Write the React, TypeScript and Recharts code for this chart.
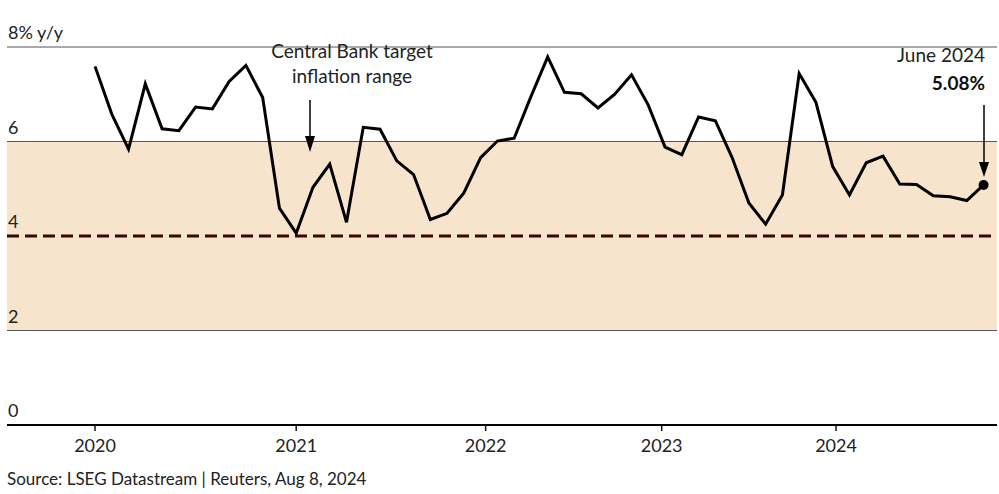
import React from 'react';
import { LineChart, Line, XAxis, YAxis, ReferenceLine, ReferenceArea, ReferenceDot } from 'recharts';

const years = ['2020', '2021', '2022', '2023', '2024'];
const monthNames = ['Jan', 'Feb', 'Mar', 'Apr', 'May', 'Jun', 'Jul', 'Aug', 'Sep', 'Oct', 'Nov', 'Dec'];
const months: string[] = years.flatMap((y) => monthNames.map((m) => `${m} ${y}`)).slice(0, 54);

// India CPI inflation, % y/y
const cpi = [
  7.59, 6.58, 5.84, 7.22, 6.27, 6.23, 6.73, 6.69, 7.27, 7.61, 6.93, 4.59,
  4.06, 5.03, 5.52, 4.29, 6.30, 6.26, 5.59, 5.30, 4.35, 4.48, 4.91, 5.66,
  6.01, 6.07, 6.95, 7.79, 7.04, 7.01, 6.71, 7.00, 7.41, 6.77, 5.88, 5.72,
  6.52, 6.44, 5.66, 4.70, 4.25, 4.87, 7.44, 6.83, 5.47, 4.87, 5.55, 5.69,
  5.10, 5.09, 4.85, 4.83, 4.75, 5.08,
];

const xTickPos = [0, 12, 23.3, 33.8, 44.2];
const xTickLabels = ['2020', '2021', '2022', '2023', '2024'];
const yTicks = [0, 2, 4, 6, 8];
const yTickLabels = ['0', '2', '4', '6', '8% y/y'];
const gridLines = [2, 6, 8];
const targetBand = [2, 6];
const targetMid = 4;

const data = cpi.map((v, i) => ({ t: i, month: months[i], cpi: v }));
const lastIdx = cpi.length - 1;

const FONT = "Lato, 'Noto Sans', sans-serif";

const renderYTick = (props: any) => {
  const { y, payload } = props;
  const idx = yTicks.indexOf(payload.value);
  return (
    <text key={`yt-${payload.value}`} x={8} y={y - 8} textAnchor="start" fontSize={18} fontFamily={FONT} fill="#222">
      {yTickLabels[idx]}
    </text>
  );
};

export default function App() {
  return (
    <div style={{ position: 'absolute', left: 0, top: 0, width: 999, height: 494, background: '#fff' }}>
      <LineChart
        width={999}
        height={494}
        data={data}
        margin={{ top: 47, right: 2, left: 6, bottom: 39 }}
      >
        <XAxis
          dataKey="t"
          type="number"
          domain={[-5.25, 53.8]}
          allowDataOverflow
          ticks={xTickPos}
          interval={0}
          tickFormatter={(v: number) => xTickLabels[xTickPos.indexOf(v)]}
          axisLine={{ stroke: '#000', strokeWidth: 2 }}
          tickLine={{ stroke: '#111', strokeWidth: 1.5 }}
          tickSize={6}
          tickMargin={8}
          tick={{ fill: '#222', fontSize: 18, fontFamily: FONT }}
          height={30}
        />
        <YAxis
          type="number"
          domain={[0, 8]}
          ticks={yTicks}
          interval={0}
          width={1}
          axisLine={false}
          tickLine={false}
          tick={renderYTick}
        />
        <ReferenceArea y1={targetBand[0]} y2={targetBand[1]} fill="#f7e4cc" fillOpacity={1} stroke="none" />
        {gridLines.map((g) => (
          <ReferenceLine key={g} y={g} stroke="#55555f" strokeWidth={1.2} />
        ))}
        <ReferenceLine y={targetMid} stroke="#3a0606" strokeWidth={3} strokeDasharray="12 6" />
        <Line
          type="linear"
          dataKey="cpi"
          stroke="#000"
          strokeWidth={3}
          dot={false}
          activeDot={false}
          isAnimationActive={false}
        />
        <ReferenceDot x={lastIdx} y={cpi[lastIdx]} r={5} fill="#000" stroke="none" />
      </LineChart>
      <svg
        width={999}
        height={494}
        style={{ position: 'absolute', left: 0, top: 0, pointerEvents: 'none' }}
      >
        <g fontFamily={FONT} fill="#222">
          <text x={352} y={58} textAnchor="middle" fontSize={19}>Central Bank target</text>
          <text x={352} y={83} textAnchor="middle" fontSize={19}>inflation range</text>
          <line x1={310} y1={100} x2={310} y2={138} stroke="#000" strokeWidth={1.5} />
          <polygon points="305,136 315,136 310,152" fill="#000" />
          <text x={985} y={62} textAnchor="end" fontSize={19}>June 2024</text>
          <text x={985} y={90} textAnchor="end" fontSize={19} fontWeight="bold" fill="#111">5.08%</text>
          <line x1={984} y1={105} x2={984} y2={164} stroke="#000" strokeWidth={1.5} />
          <polygon points="979,162 989,162 984,177" fill="#000" />
          <text x={7} y={485} textAnchor="start" fontSize={17}>Source: LSEG Datastream | Reuters, Aug 8, 2024</text>
        </g>
      </svg>
    </div>
  );
}
